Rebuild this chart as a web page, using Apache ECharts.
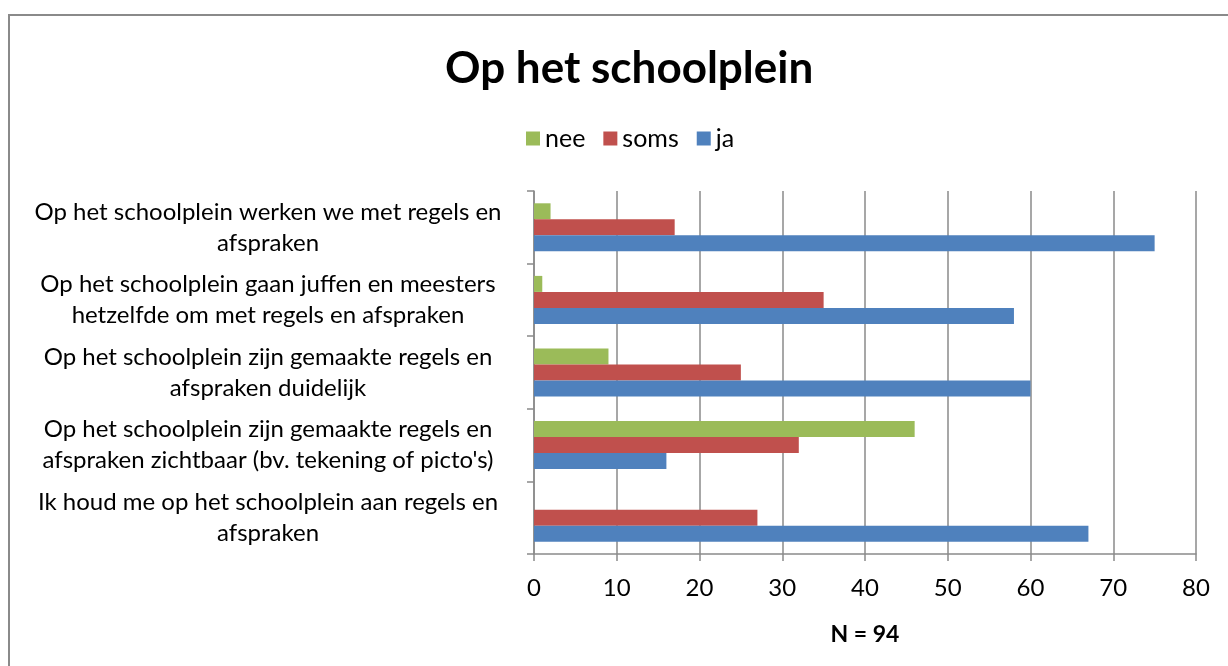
<!DOCTYPE html>
<html lang="nl">
<head>
    <meta charset="UTF-8" />
    <title>Op het schoolplein</title>
    <script src="https://cdn.jsdelivr.net/npm/echarts@6/dist/echarts.min.js"></script>
    <style>
        * { margin: 0; padding: 0; }
        #main { width: 1228px; height: 666px; }
    </style>
</head>
<body>
    <div id="main"></div>
<script>
    // vragen (van boven naar beneden)
    const categories = [
        "Op het schoolplein werken we met regels en\nafspraken",
        "Op het schoolplein gaan juffen en meesters\nhetzelfde om met regels en afspraken",
        "Op het schoolplein zijn gemaakte regels en\nafspraken duidelijk",
        "Op het schoolplein zijn gemaakte regels en\nafspraken zichtbaar (bv. tekening of picto's)",
        "Ik houd me op het schoolplein aan regels en\nafspraken"
    ];
    const nee = [2, 1, 9, 46, 0];
    const soms = [17, 35, 25, 32, 27];
    const ja = [75, 58, 60, 16, 67];
    const xTicks = [0, 80, 10]; // min, max, interval

    const font = "Lato, 'Open Sans', sans-serif";
    const myChart = echarts.init(document.getElementById("main"));

    function bar(name, data, color) {
        return {
            name: name,
            type: "bar",
            data: data,
            barWidth: 16,
            barGap: "0%",
            itemStyle: { color: color },
            animation: false
        };
    }

    const option = {
        backgroundColor: "#fff",
        textStyle: { fontFamily: font },
        title: {
            text: "Op het schoolplein",
            left: 440,
            top: 42,
            textStyle: { fontSize: 44, fontWeight: "bold", color: "#000", fontFamily: font }
        },
        legend: {
            data: ["nee", "soms", "ja"],
            top: 121,
            left: 521,
            itemWidth: 14,
            itemHeight: 14,
            itemGap: 18,
            icon: "rect",
            textStyle: { fontSize: 25, color: "#000", fontFamily: font }
        },
        grid: { left: 534, right: 32, top: 191, bottom: 112 },
        xAxis: {
            type: "value",
            min: xTicks[0],
            max: xTicks[1],
            interval: xTicks[2],
            name: "N = 94",
            nameLocation: "middle",
            nameGap: 69,
            nameTextStyle: { fontSize: 23, fontWeight: "bold", color: "#000", fontFamily: font },
            axisLine: { show: true, lineStyle: { color: "#8a8a8a", width: 1.5 } },
            axisTick: { show: true, length: 7, lineStyle: { color: "#8a8a8a", width: 1.5 } },
            axisLabel: { fontSize: 24, color: "#000", margin: 22, fontFamily: font },
            splitLine: { show: true, lineStyle: { color: "#8a8a8a", width: 1.5 } }
        },
        yAxis: {
            type: "category",
            inverse: true,
            data: categories,
            axisLine: { show: true, lineStyle: { color: "#8a8a8a", width: 1.5 } },
            axisTick: { show: true, length: 7, lineStyle: { color: "#8a8a8a", width: 1.5 } },
            axisLabel: {
                fontSize: 24,
                color: "#000",
                align: "center",
                margin: 266,
                lineHeight: 31,
                fontFamily: font
            }
        },
        graphic: [{
            type: "rect",
            shape: { x: 9, y: 15, width: 1230, height: 660 },
            style: { fill: "none", stroke: "#8a8a8a", lineWidth: 2 }
        }],
        series: [
            bar("nee", nee, "#9BBB59"),
            bar("soms", soms, "#C0504D"),
            bar("ja", ja, "#4F81BD")
        ]
    };
    myChart.setOption(option);
</script>
</body>
</html>
